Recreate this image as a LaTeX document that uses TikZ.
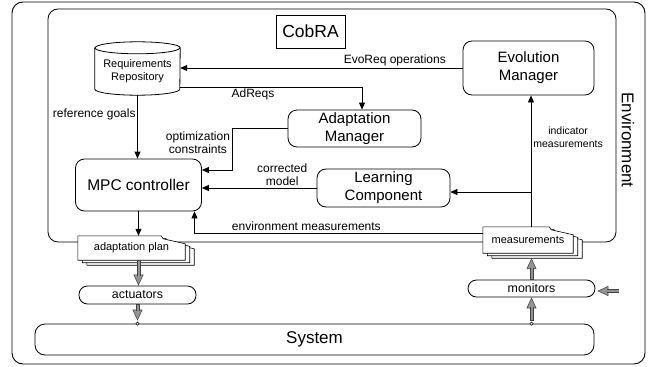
\documentclass[tikz,border=0pt]{standalone}
\usepackage{fontspec}
\setmainfont{Liberation Sans}
\usetikzlibrary{arrows.meta,calc}
\pgfdeclarelayer{bg}
\pgfdeclarelayer{mid}
\pgfsetlayers{bg,mid,main}

\tikzset{
  box/.style={draw, line width=0.8pt, rounded corners=9pt, align=center, inner sep=0pt,
    font=\fontsize{15}{18}\selectfont},
  pill/.style={draw, line width=0.8pt, rounded corners=8.5pt, inner sep=0pt,
    font=\fontsize{12.4}{14}\selectfont},
  lbl/.style={font=\fontsize{12}{13.5}\selectfont, align=center, inner sep=1.5pt},
  smalllbl/.style={font=\fontsize{10.5}{13}\selectfont, align=center, inner sep=2pt},
  doc/.style={inner sep=0pt, font=\fontsize{11}{13}\selectfont},
  arr/.style={draw, line width=0.8pt, -{Triangle[length=7pt,width=6pt]}},
}

\newcommand\docpages[1]{%
  \begin{pgfonlayer}{mid}
  \foreach \d in {2,1,0}{
    \draw[fill=white, line width=0.6pt]
      ($(#1.north west)+(\d*4.5pt,-\d*2.5pt)$)
      -- ($(#1.north east)+(\d*4.5pt-24pt,-\d*2.5pt)$)
      -- ($(#1.north east)+(\d*4.5pt-22pt,-\d*2.5pt-3pt)$)
      -- ($(#1.north east)+(\d*4.5pt,-\d*2.5pt-8pt)$)
      -- ($(#1.south east)+(\d*4.5pt,-\d*2.5pt)$)
      -- ($(#1.south west)+(\d*4.5pt,-\d*2.5pt)$) -- cycle;
  }
  \end{pgfonlayer}}

\newcommand\grayarrow[2]{%
  \draw[line width=0.5pt, draw=black!75, -{Triangle[length=11pt,width=10pt,fill=gray!85]}] (#1) -- (#2);
  \draw[line width=4pt, black!75, shorten >=10pt] (#1) -- (#2);
  \draw[line width=2pt, gray!85, shorten >=9.5pt, shorten <=0.5pt] (#1) -- (#2);
}

\begin{document}
\begin{tikzpicture}[x=1pt, y=-1pt]
\useasboundingbox (0,0) rectangle (649,367);

% containers
\begin{pgfonlayer}{bg}
  \node[draw, line width=0.9pt, rounded corners=11pt, minimum width=633pt, minimum height=362pt] (env) at (328.5,183) {};
  \node[draw, line width=0.8pt, rounded corners=10pt, minimum width=568pt, minimum height=233pt] (cobra) at (332,125.5) {};
\end{pgfonlayer}
\node[draw, line width=0.8pt, minimum width=69pt, minimum height=33pt, inner sep=0pt, font=\fontsize{17.5}{20}\selectfont] (cobralbl) at (310.5,31.5) {CobRA};
\node[rotate=-90, font=\fontsize{17}{20}\selectfont, inner sep=0pt] (envlbl) at (628,140) {Environment};

% requirements repository (cylinder)
\node[doc, align=center, minimum width=85pt, minimum height=47pt] (rr) at (137.5,71.5) {Requirements\\Repository};
\begin{pgfonlayer}{mid}
\draw[line width=0.8pt, fill=white] (rr.north west) -- ([yshift=6pt]rr.south west)
  arc[start angle=180, end angle=360, x radius=42.5pt, y radius=6pt]
  -- (rr.north east)
  arc[start angle=0, end angle=180, x radius=42.5pt, y radius=6pt] -- cycle;
\draw[line width=0.8pt] (rr.north west) arc[start angle=180, end angle=360, x radius=42.5pt, y radius=6pt];
\end{pgfonlayer}

% components
\node[box, minimum width=131pt, minimum height=54pt] (evo) at (528.5,68) {Evolution\\Manager};
\node[box, minimum width=133pt, minimum height=37pt] (am) at (354.5,128.5) {Adaptation\\Manager};
\node[box, minimum width=133pt, minimum height=38pt] (lc) at (383.5,188) {Learning\\Component};
\node[box, minimum width=126pt, minimum height=52pt, font=\fontsize{15.5}{18}\selectfont] (mpc) at (138.5,185) {MPC controller};
\node[box, rounded corners=10pt, minimum width=559pt, minimum height=31pt, font=\fontsize{17}{20}\selectfont] (sys) at (314.5,339.5) {System};
\node[pill, minimum width=117pt, minimum height=18pt] (act) at (137.5,295) {actuators};
\node[pill, minimum width=127pt, minimum height=17pt] (mon) at (531.5,288.5) {monitors};

% documents
\node[doc, minimum width=107pt, minimum height=24pt] (ap) at (131.5,248) {adaptation plan};
\docpages{ap}
\node[doc, minimum width=90pt, minimum height=26pt] (meas) at (528,240) {measurements};
\docpages{meas}

% black connectors
\draw[arr] (evo.west) -- (evo.west -| rr.east) node[lbl, pos=0.24, above] {EvoReq operations};
\coordinate (adst) at ([yshift=-15.5pt]rr.east);
\draw[arr] (adst) -| ([xshift=7.5pt]am.north) node[lbl, pos=0.2, below] {AdReqs};
\draw[arr] (rr.south) -- (rr.south |- mpc.north) node[lbl, pos=0.31, left] {reference goals};
\draw[arr] (am.west) -| ([xshift=30pt,yshift=15pt]mpc.east) node[lbl, pos=0.67, left] {optimization\\constraints} -- ([yshift=15pt]mpc.east);
\draw[arr] (lc.west) -- (lc.west -| mpc.east) node[lbl, pos=0.3, above] {corrected\\model};
\draw[arr] ([yshift=7pt]meas.west) -| ([xshift=56pt]mpc.south) node[lbl, pos=0.306, above] {environment measurements};
\coordinate (vx) at ([xshift=3pt]meas.north);
\draw[arr] (vx) -- (vx |- evo.south) node[smalllbl, pos=0.68, right] {indicator\\measurements};
\coordinate (lcin) at ([yshift=-4pt]lc.east);
\draw[arr] (vx |- lcin) -- (lcin);
\draw[arr] (mpc.south) -- (mpc.south |- ap.north);

% gray flow arrows
\coordinate (apout) at (mpc.south |- ap.south);
\coordinate (actin) at (mpc.south |- act.north);
\grayarrow{apout}{actin}
\coordinate (sysin) at (act.south |- sys.north);
\coordinate (sysinb) at ([yshift=3pt]sysin);
\grayarrow{act.south}{sysinb}
\draw[line width=0.5pt, fill=white] (sysin) circle[radius=1.6pt];
\coordinate (sysout) at (mon.south |- sys.north);
\coordinate (sysouta) at ([yshift=3pt]sysout);
\grayarrow{sysouta}{mon.south}
\draw[line width=0.5pt, fill=white] (sysout) circle[radius=1.6pt];
\coordinate (measin) at ([yshift=-5pt]meas.south -| mon.north);
\grayarrow{mon.north}{measin}
\coordinate (envin) at (619,291);
\coordinate (monin) at ([xshift=2pt]envin -| mon.east);
\grayarrow{envin}{monin}
\end{tikzpicture}
\end{document}
